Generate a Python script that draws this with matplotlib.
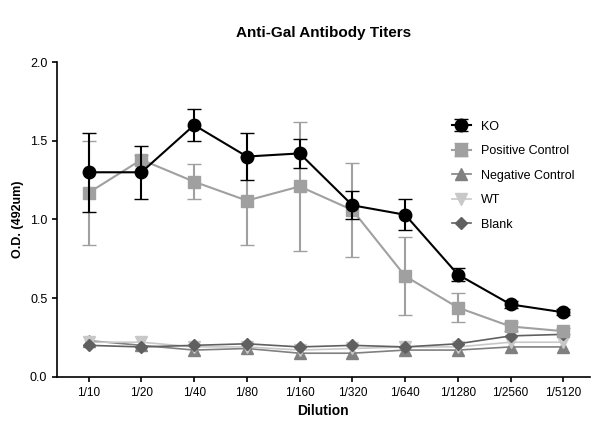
import numpy as np
import matplotlib.pyplot as plt

dilutions = ['1/10', '1/20', '1/40', '1/80', '1/160', '1/320', '1/640', '1/1280', '1/2560', '1/5120']
ko = [1.30, 1.30, 1.60, 1.40, 1.42, 1.09, 1.03, 0.65, 0.46, 0.41]
ko_err = [0.25, 0.17, 0.10, 0.15, 0.09, 0.09, 0.10, 0.04, 0.02, 0.02]
pos = [1.17, 1.38, 1.24, 1.12, 1.21, 1.06, 0.64, 0.44, 0.32, 0.29]
pos_err = [0.33, 0.03, 0.11, 0.28, 0.41, 0.30, 0.25, 0.09, 0.03, 0.02]
neg = [0.23, 0.20, 0.17, 0.18, 0.15, 0.15, 0.17, 0.17, 0.19, 0.19]
wt = [0.22, 0.22, 0.19, 0.19, 0.17, 0.18, 0.19, 0.19, 0.22, 0.22]
blank = [0.20, 0.19, 0.20, 0.21, 0.19, 0.20, 0.19, 0.21, 0.26, 0.27]

x = np.arange(len(dilutions))
plt.rcParams['font.family'] = ['Liberation Sans', 'DejaVu Sans']
fig = plt.figure(figsize=(6, 4.47), dpi=100)
ax = fig.add_axes([0.095, 0.157, 0.888, 0.704])

h_pos = ax.errorbar(x, pos, yerr=pos_err, color='#a0a0a0', marker='s', ms=9, lw=1.5,
                    capsize=5, zorder=2)
h_ko = ax.errorbar(x, ko, yerr=ko_err, color='black', marker='o', ms=9, lw=1.5,
                   mfc='black', capsize=5, zorder=3)
h_neg, = ax.plot(x, neg, color='#808080', marker='^', ms=8, lw=1.2)
h_wt, = ax.plot(x, wt, color='#c8c8c8', marker='v', ms=8, lw=1.2)
h_bl, = ax.plot(x, blank, color='#606060', marker='D', ms=6, lw=1.2)

ax.legend([h_ko, h_pos, h_neg, h_wt, h_bl],
          ['KO', 'Positive Control', 'Negative Control', 'WT', 'Blank'],
          frameon=False, loc='upper left', bbox_to_anchor=(0.72, 0.85),
          fontsize=9, labelspacing=1.0, handlelength=1.5)

ax.set_xticks(x)
ax.set_xticklabels(dilutions, fontsize=8.5)
ax.set_xlim(-0.6, 9.5)
ax.set_ylim(0, 2.0)
ax.set_yticks([0, 0.5, 1.0, 1.5, 2.0])
ax.set_yticklabels(['0.0', '0.5', '1.0', '1.5', '2.0'], fontsize=9)
ax.tick_params(direction='out', width=1.2)
ax.spines['top'].set_visible(False)
ax.spines['right'].set_visible(False)
ax.spines['left'].set_linewidth(1.2)
ax.spines['bottom'].set_linewidth(1.2)
ax.set_xlabel('Dilution', fontsize=10, fontweight='bold')
ax.set_ylabel('O.D. (492um)', fontsize=9, fontweight='bold')
ax.set_title('Anti-Gal Antibody Titers', fontsize=11, fontweight='bold', pad=18)

fig.savefig('out.png', dpi=100)
